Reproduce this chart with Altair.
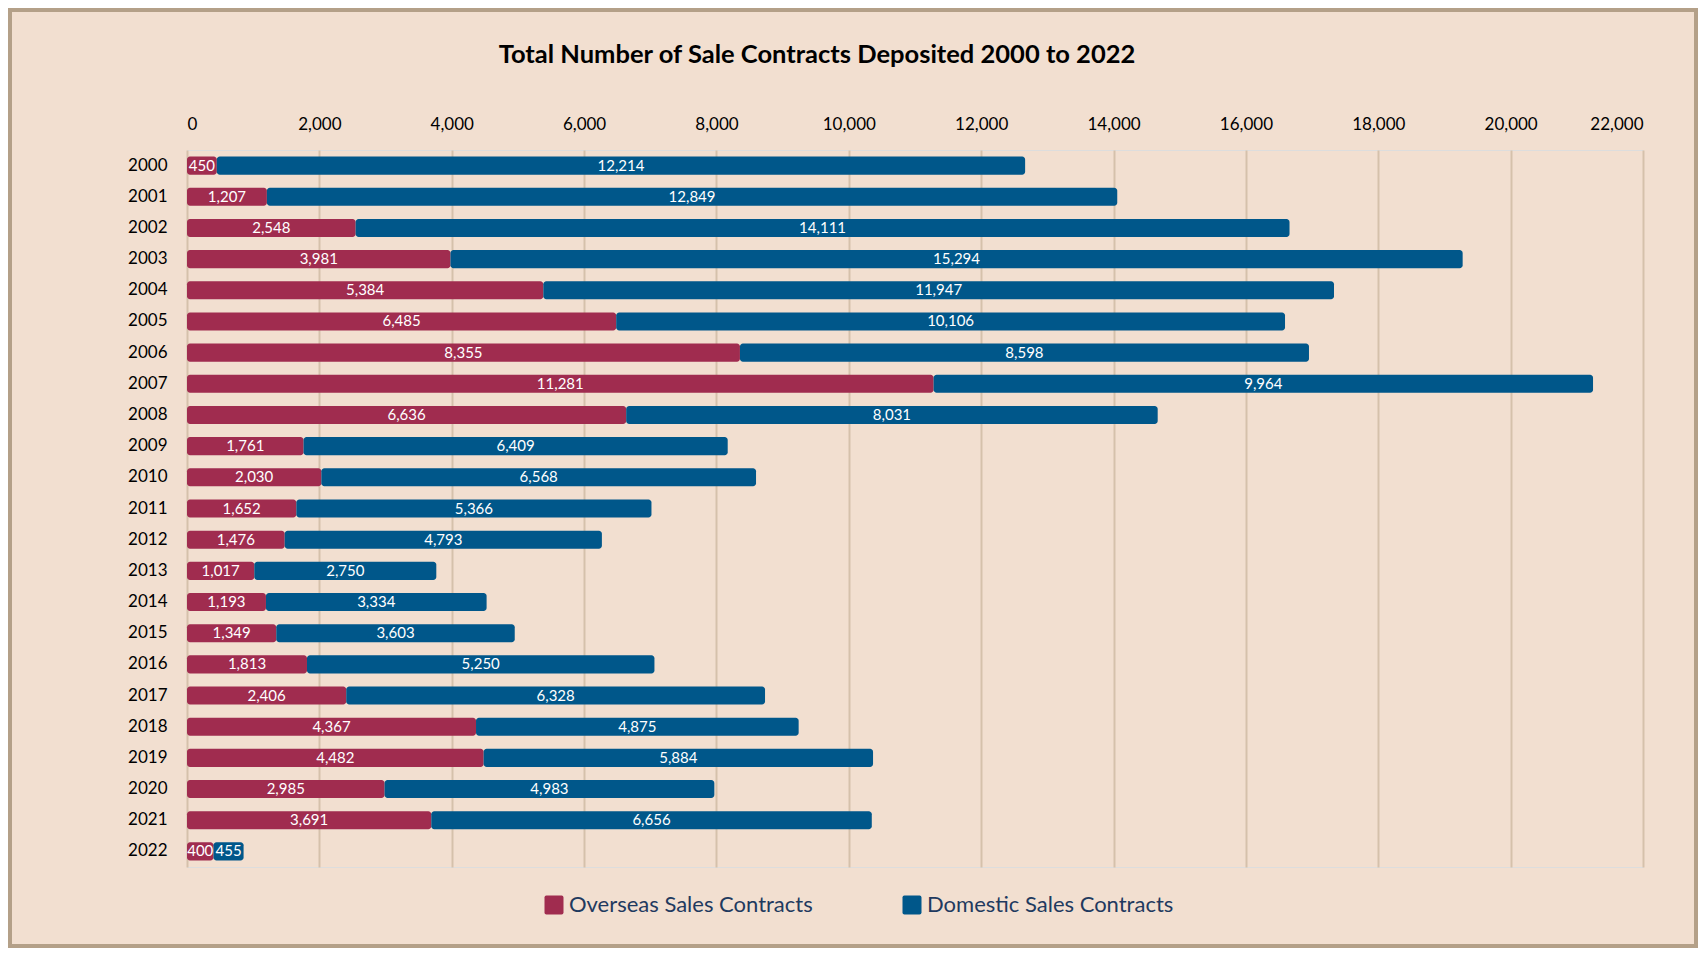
import altair as alt
import pandas as pd

years = [str(y) for y in range(2000, 2023)]
overseas = [450, 1207, 2548, 3981, 5384, 6485, 8355, 11281, 6636, 1761, 2030, 1652,
            1476, 1017, 1193, 1349, 1813, 2406, 4367, 4482, 2985, 3691, 400]
domestic = [12214, 12849, 14111, 15294, 11947, 10106, 8598, 9964, 8031, 6409, 6568, 5366,
            4793, 2750, 3334, 3603, 5250, 6328, 4875, 5884, 4983, 6656, 455]
series = ["Overseas Sales Contracts", "Domestic Sales Contracts"]
colors = ["#a02c4f", "#00578a"]
x_ticks = list(range(0, 22001, 2000))

rows = []
for i, y in enumerate(years):
    rows.append({"year": y, "series": series[0], "value": overseas[i], "order": 0})
    rows.append({"year": y, "series": series[1], "value": domestic[i], "order": 1})
df = pd.DataFrame(rows)

FONT = "Lato"

base = alt.Chart(df).transform_stack(
    stack="value", groupby=["year"], as_=["x0", "x1"],
    sort=[alt.SortField("order", order="ascending")]
).transform_calculate(mid="(datum.x0 + datum.x1) / 2")

yenc = alt.Y("year:O", sort=years,
             scale=alt.Scale(paddingInner=0.42, paddingOuter=0.21),
             axis=alt.Axis(title=None, domain=False, ticks=False, tickSize=0,
                           labelPadding=20, labelFontSize=17, labelColor="#000000",
                           labelFont=FONT))

bars = base.mark_bar(cornerRadius=3).encode(
    x=alt.X("x0:Q", scale=alt.Scale(domain=[0, 22000], nice=False),
            axis=alt.Axis(orient="top", title=None, values=x_ticks, format=",.0f",
                          domain=False, ticks=False, tickSize=0, labelPadding=17,
                          labelFontSize=17, labelColor="#000000", labelFont=FONT,
                          grid=True, gridColor="#d5c1ab", gridWidth=2)),
    x2="x1:Q",
    y=yenc,
    color=alt.Color("series:N",
                    scale=alt.Scale(domain=series, range=colors),
                    legend=alt.Legend(
                        title=None, orient="none", legendX=356, legendY=744,
                        direction="horizontal",
                        symbolType="M -0.8 -1 H 0.8 Q 1 -1 1 -0.8 V 0.8 Q 1 1 0.8 1 H -0.8 Q -1 1 -1 0.8 V -0.8 Q -1 -1 -0.8 -1 Z",
                        symbolSize=361, symbolStrokeWidth=0, symbolOpacity=1,
                        labelFontSize=22, labelColor="#1f3a5f", labelFont=FONT,
                        labelLimit=500, labelOffset=4, columnPadding=88)),
)

labels = base.mark_text(color="#ffffff", fontSize=15, font=FONT, baseline="middle").encode(
    x=alt.X("mid:Q"),
    y=alt.Y("year:O", sort=years),
    text=alt.Text("value:Q", format=","),
)

frame = alt.Chart(pd.DataFrame({"f": [0]})).mark_rect(
    fillOpacity=0, stroke="#b4a088", strokeWidth=4
).encode(
    x=alt.value(-177), x2=alt.value(1509), y=alt.value(-140), y2=alt.value(796)
)

chart = alt.layer(frame, bars, labels).properties(
    width=1456, height=717, padding=0,
    background="#f2dfd0",
    title=alt.TitleParams(
        "Total Number of Sale Contracts Deposited 2000 to 2022",
        font=FONT, fontSize=25.5, fontWeight="bold", color="#000000",
        anchor="middle", dx=-98, offset=-60),
).configure_view(strokeWidth=0).configure(font=FONT)

chart.save("out.html", embed_options={"renderer": "svg", "actions": False})
